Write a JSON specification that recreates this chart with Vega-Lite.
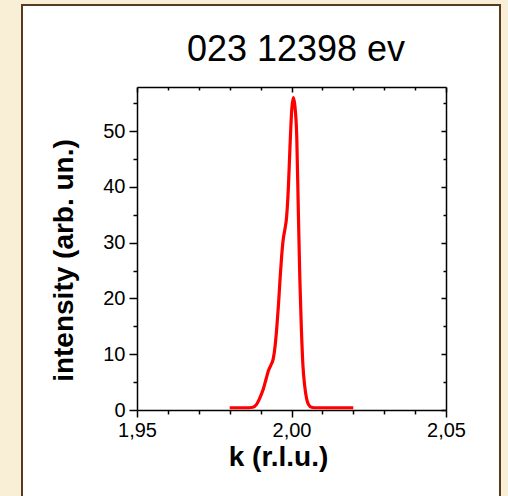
{
  "$schema": "https://vega.github.io/schema/vega-lite/v6.json",
  "width": 478,
  "height": 493,
  "autosize": "none",
  "padding": {"left": 22, "top": 5, "right": 8, "bottom": 0},
  "background": "#f8efd6",
  "config": {
    "font": "Liberation Sans",
    "view": {"fill": "white", "stroke": "#5a3a1e", "strokeWidth": 2}
  },
  "title": {
    "text": "023 12398 ev",
    "font": "Liberation Sans",
    "fontSize": 36,
    "fontWeight": "normal",
    "color": "black",
    "offset": -64,
    "dx": 35
  },
  "data": {
    "values": [
      {"k": 1.98, "I": 0.4},
      {"k": 1.985, "I": 0.4},
      {"k": 1.9875, "I": 0.5},
      {"k": 1.9887, "I": 1.0},
      {"k": 1.9898, "I": 2.2},
      {"k": 1.9909, "I": 3.8},
      {"k": 1.9918, "I": 5.6},
      {"k": 1.9925, "I": 7.0},
      {"k": 1.9933, "I": 8.0},
      {"k": 1.9941, "I": 9.2},
      {"k": 1.9947, "I": 11.5},
      {"k": 1.9952, "I": 14.5},
      {"k": 1.9958, "I": 19.0},
      {"k": 1.9963, "I": 23.5},
      {"k": 1.9968, "I": 27.5},
      {"k": 1.9973, "I": 30.5},
      {"k": 1.9979, "I": 32.5},
      {"k": 1.9984, "I": 34.5},
      {"k": 1.999, "I": 40.0},
      {"k": 1.9995, "I": 47.0},
      {"k": 2.0001, "I": 54.0},
      {"k": 2.0006, "I": 56.0},
      {"k": 2.0011, "I": 54.5},
      {"k": 2.0017, "I": 49.0},
      {"k": 2.0022, "I": 36.0},
      {"k": 2.0027, "I": 23.5},
      {"k": 2.0032, "I": 14.5},
      {"k": 2.0037, "I": 8.0},
      {"k": 2.0043, "I": 4.2},
      {"k": 2.0049, "I": 2.0},
      {"k": 2.0055, "I": 1.0},
      {"k": 2.0065, "I": 0.5},
      {"k": 2.008, "I": 0.4},
      {"k": 2.02, "I": 0.4}
    ]
  },
  "layer": [
    {
      "mark": {"type": "line", "color": "#ff0000", "strokeWidth": 3.2, "interpolate": "monotone"},
      "encoding": {
        "x": {
          "field": "k",
          "type": "quantitative",
          "scale": {"domain": [1.95, 2.05], "range": [115, 424], "nice": false, "zero": false},
          "axis": {
            "orient": "bottom",
            "offset": -88,
            "values": [1.95, 1.96, 1.97, 1.98, 1.99, 2.0, 2.01, 2.02, 2.03, 2.04, 2.05],
            "labelExpr": "abs(datum.value*20 - round(datum.value*20)) < 0.001 ? replace(format(datum.value, '.2f'), '.', ',') : ''",
            "tickSize": {"condition": {"test": "abs(datum.value*20 - round(datum.value*20)) < 0.001", "value": 7}, "value": 4},
            "labelFontSize": 20,
            "labelColor": "black",
            "labelPadding": 3,
            "labelFlush": false,
            "labelOverlap": false,
            "title": "k (r.l.u.)",
            "titleFontSize": 28,
            "titleFontWeight": "bold",
            "titleColor": "black",
            "titlePadding": 3,
            "titleX": 256,
            "domainColor": "black",
            "domainWidth": 1.5,
            "tickColor": "black",
            "tickWidth": 1.5,
            "grid": false
          }
        },
        "y": {
          "field": "I",
          "type": "quantitative",
          "scale": {"domain": [0, 57.9], "range": [405, 82], "nice": false, "zero": false},
          "axis": {
            "orient": "left",
            "offset": -115,
            "values": [0, 5, 10, 15, 20, 25, 30, 35, 40, 45, 50, 55],
            "labelExpr": "datum.value % 10 == 0 ? format(datum.value, 'd') : ''",
            "tickSize": {"condition": {"test": "datum.value % 10 == 0", "value": 8}, "value": 4},
            "labelFontSize": 20,
            "labelColor": "black",
            "labelPadding": 4,
            "labelFlush": false,
            "labelOverlap": false,
            "title": "intensity (arb. un.)",
            "titleFontSize": 28,
            "titleFontWeight": "bold",
            "titleColor": "black",
            "titlePadding": 24,
            "titleY": 255,
            "domainColor": "black",
            "domainWidth": 1.5,
            "tickColor": "black",
            "tickWidth": 1.5,
            "grid": false
          }
        }
      }
    },
    {
      "mark": {"type": "line", "opacity": 0},
      "encoding": {
        "x": {
          "field": "k",
          "type": "quantitative",
          "axis": {
            "orient": "top",
            "offset": -82,
            "values": [1.95, 1.96, 1.97, 1.98, 1.99, 2.0, 2.01, 2.02, 2.03, 2.04, 2.05],
            "labels": false,
            "title": null,
            "tickSize": {"condition": {"test": "abs(datum.value*20 - round(datum.value*20)) < 0.001", "value": -5}, "value": -3},
            "domainColor": "black",
            "domainWidth": 1.5,
            "tickColor": "black",
            "tickWidth": 1.5,
            "grid": false
          }
        },
        "y": {
          "field": "I",
          "type": "quantitative",
          "axis": {
            "orient": "right",
            "offset": -54,
            "values": [0, 5, 10, 15, 20, 25, 30, 35, 40, 45, 50, 55],
            "labels": false,
            "title": null,
            "tickSize": {"condition": {"test": "datum.value % 10 == 0", "value": -5}, "value": -3},
            "domainColor": "black",
            "domainWidth": 1.5,
            "tickColor": "black",
            "tickWidth": 1.5,
            "grid": false
          }
        }
      }
    }
  ],
  "resolve": {"axis": {"x": "independent", "y": "independent"}}
}
